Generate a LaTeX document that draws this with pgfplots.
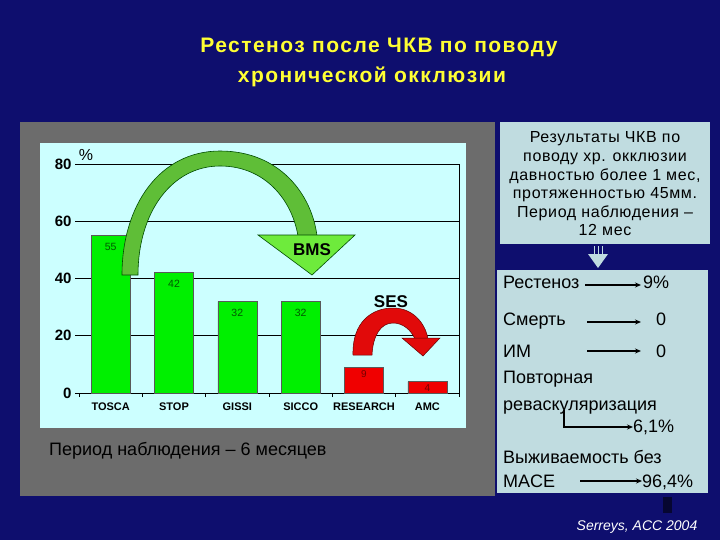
\documentclass[border=0pt]{standalone}
\usepackage{pgfplots}
\pgfplotsset{compat=1.18}
\usetikzlibrary{arrows.meta}
\usepackage{fontspec}
\setmainfont{Liberation Sans}
\newfontfamily\titlefont[LetterSpace=7]{Liberation Sans}
\newfontfamily\boxfont[LetterSpace=4]{Liberation Sans}
\definecolor{navy}{RGB}{14,14,110}
\definecolor{panelgray}{RGB}{108,108,108}
\definecolor{chartbg}{RGB}{204,255,255}
\definecolor{boxblue}{RGB}{192,220,224}
\definecolor{titleyellow}{RGB}{255,255,51}
\definecolor{barGreen}{RGB}{0,240,0}
\definecolor{barRed}{RGB}{240,0,0}
\definecolor{arcGreen}{RGB}{95,190,55}
\definecolor{headGreen}{RGB}{110,235,60}
\definecolor{arcRed}{RGB}{225,10,10}
\begin{document}
\begin{tikzpicture}
\begin{scope}[x=1pt,y=-1pt]
\fill[navy] (0,0) rectangle (720,540);
\fill[panelgray] (20,122) rectangle (495,496);
\fill[chartbg] (40,143) rectangle (466,428);
\fill[boxblue] (500,122) rectangle (710,244);
\fill[boxblue] (497,270) rectangle (708,493);
\end{scope}
\begin{axis}[
  at={(79pt,-393pt)}, anchor=south west,
  scale only axis, width=380pt, height=229pt,
  xmin=-0.5, xmax=5.5, ymin=0, ymax=80,
  clip=false,
  axis line style={draw=none},
  ytick={0,20,40,60,80},
  ymajorgrids, grid style={black, line width=0.8pt},
  ytick pos=left, tick align=outside, major tick length=4pt,
  tick style={black, line width=0.8pt},
  xtick={-0.5,0.5,1.5,2.5,3.5,4.5,5.5},
  xticklabels={TOSCA,STOP,GISSI,SICCO,RESEARCH,AMC},
  x tick label as interval,
  xtick pos=bottom,
  /pgf/number format/assume math mode=true,
  yticklabel style={font=\bfseries\fontsize{15}{15}\selectfont},
  xticklabel style={font=\bfseries\fontsize{11}{11}\selectfont, yshift=-2pt},
]
\addplot[ybar, bar width=39pt, bar shift=0pt, fill=barGreen, draw=black!65, line width=0.6pt,
  nodes near coords,
  every node near coord/.append style={anchor=north, yshift=-4pt, font=\fontsize{10.5}{10.5}\selectfont, text=green!35!black}]
  coordinates {(0,55) (1,42) (2,32) (3,32)};
\addplot[ybar, bar width=39pt, bar shift=0pt, fill=barRed, draw=black!65, line width=0.6pt,
  nodes near coords,
  every node near coord/.append style={anchor=north, inner sep=1pt, yshift=-1.5pt, font=\fontsize{10}{10}\selectfont, text=red!45!black}]
  coordinates {(4,9) (5,4)};
\draw[black, line width=0.8pt] (axis cs:5.5,0) -- (axis cs:5.5,80);
\end{axis}
\begin{scope}[x=1pt,y=-1pt]
% titles
\node[text=titleyellow, font=\titlefont\bfseries\fontsize{21}{21}\selectfont] at (379,47) {Рестеноз после ЧКВ по поводу};
\node[text=titleyellow, font=\titlefont\bfseries\fontsize{21}{21}\selectfont] at (372,77) {хронической окклюзии};
% percent sign
\node[font=\fontsize{16}{16}\selectfont] at (86,155) {\%};
% green arc arrow
\filldraw[fill=arcGreen, draw=green!30!black, line width=0.6pt]
  (122,275) .. controls (122,205) and (160,151) .. (220,151)
  .. controls (280,151) and (312,195) .. (317,236) -- (298,236)
  .. controls (292,200) and (265,166) .. (220,166)
  .. controls (172,166) and (138,212) .. (138,275) -- cycle;
\filldraw[fill=headGreen, draw=green!30!black, line width=0.6pt] (258,235) -- (355,235) -- (312,275) -- cycle;
\node[font=\bfseries\fontsize{17}{17}\selectfont] at (312,250) {BMS};
% red arc arrow
\filldraw[fill=arcRed, draw=red!40!black, line width=0.5pt]
  (353,355) .. controls (352,322) and (372,308) .. (393,308)
  .. controls (412,308) and (425,322) .. (428,339) -- (415,339)
  .. controls (411,330) and (403,323) .. (393,323)
  .. controls (381,323) and (373,335) .. (372,355) -- cycle;
\filldraw[fill=arcRed, draw=red!40!black, line width=0.5pt] (402,338) -- (440,338) -- (423,356) -- cycle;
\node[font=\bfseries\fontsize{17}{17}\selectfont] at (391,302) {SES};
% period text
\node[anchor=base west, inner sep=0pt, font=\fontsize{18}{18}\selectfont] at (49,455) {Период наблюдения – 6 месяцев};
% box 1 text
\node[align=center, font=\boxfont\fontsize{16}{18.6}\selectfont] at (605,184) {Результаты ЧКВ по\\поводу хр. окклюзии\\давностью более 1 мес,\\протяженностью 45мм.\\Период наблюдения –\\12 мес};
% arrow between boxes
\draw[boxblue, line width=0.7pt] (594,246) -- (594,254) (598,246) -- (598,254) (602,246) -- (602,254);
\fill[boxblue] (588,254) -- (608,254) -- (598,268) -- cycle;
% box 2 texts
\begin{scope}[every node/.style={anchor=base west, inner sep=0pt, font=\fontsize{18}{18}\selectfont}]
\node at (503,288) {Рестеноз};
\node at (643,288) {9\%};
\node at (503,325) {Смерть};
\node at (656,325) {0};
\node at (503,357) {ИМ};
\node at (656,357) {0};
\node at (503,383) {Повторная};
\node at (503,410) {реваскуляризация};
\node at (633,432) {6,1\%};
\node at (503,463) {Выживаемость без};
\node at (503,487) {MACE};
\node at (642,487) {96,4\%};
\end{scope}
\begin{scope}[black, line width=1.5pt, -{Stealth[length=6pt,width=5pt]}]
\draw (585,285) -- (641,285);
\draw (587,322) -- (641,322);
\draw (587,351) -- (641,351);
\draw (564,410) -- (564,427) -- (633,427);
\draw (580,481) -- (642,481);
\end{scope}
\fill[black!55!navy] (663,497) rectangle (672,513);
\node[text=white, font=\itshape\fontsize{14}{14}\selectfont] at (637,527) {Serreys, ACC 2004};
\end{scope}
\end{tikzpicture}
\end{document}
